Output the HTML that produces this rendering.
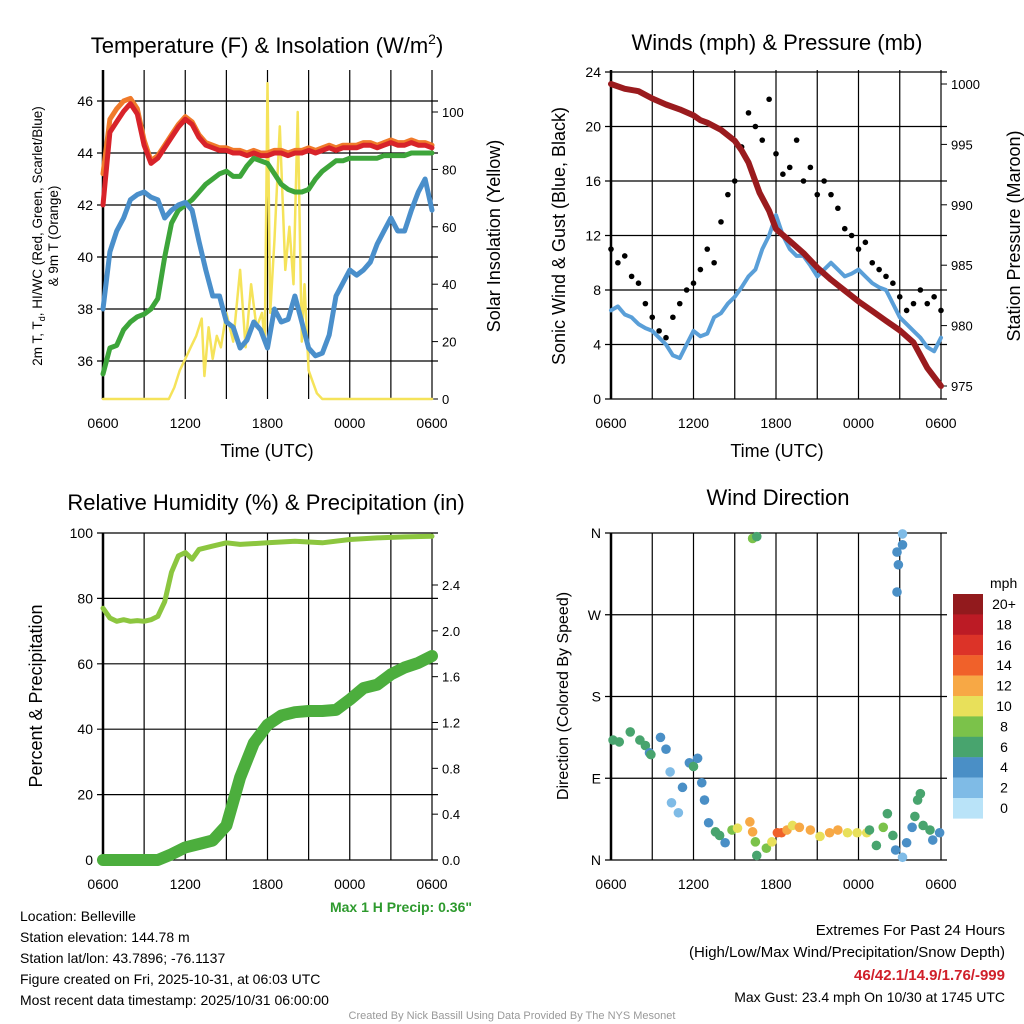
<!DOCTYPE html>
<html><head><meta charset="utf-8"><style>
body{margin:0;background:#fff;}
svg{display:block;font-family:"Liberation Sans",sans-serif;}
</style></head><body>
<svg id="s" width="1024" height="1024" viewBox="0 0 1024 1024" xmlns="http://www.w3.org/2000/svg">
<g font-size="22" text-anchor="middle" fill="#000">
<text x="267" y="53">Temperature (F) &amp; Insolation (W/m<tspan font-size="14" dy="-9">2</tspan><tspan dy="9">)</tspan></text>
<text x="777" y="50">Winds (mph) &amp; Pressure (mb)</text>
<text x="266" y="510">Relative Humidity (%) &amp; Precipitation (in)</text>
<text x="778" y="505">Wind Direction</text>
</g>
<g font-size="18" text-anchor="middle">
<text x="267" y="457">Time (UTC)</text>
<text x="777" y="457">Time (UTC)</text>
<text transform="translate(500,236) rotate(-90)">Solar Insolation (Yellow)</text>
<text transform="translate(565,236) rotate(-90)">Sonic Wind &amp; Gust (Blue, Black)</text>
<text transform="translate(1020,236) rotate(-90)">Station Pressure (Maroon)</text>
<text transform="translate(42,696) rotate(-90)">Percent &amp; Precipitation</text>
<text transform="translate(568,696) rotate(-90)" font-size="16">Direction (Colored By Speed)</text>
</g>
<g font-size="13.5" text-anchor="middle">
<text transform="translate(42,236) rotate(-90)">2m T, T<tspan font-size="9" dy="3">d</tspan><tspan dy="-3">, HI/WC (Red, Green, Scarlet/Blue)</tspan></text>
<text transform="translate(58,236) rotate(-90)">&amp; 9m T (Orange)</text>
</g>
<g id="p1"></g>
<g id="p2"></g>
<g id="p3"></g>
<g id="p4"></g>
<g font-size="14" fill="#000">
<text x="20" y="921">Location: Belleville</text>
<text x="20" y="942">Station elevation: 144.78 m</text>
<text x="20" y="963">Station lat/lon: 43.7896; -76.1137</text>
<text x="20" y="984">Figure created on Fri, 2025-10-31, at 06:03 UTC</text>
<text x="20" y="1005">Most recent data timestamp: 2025/10/31 06:00:00</text>
</g>
<g font-size="15" text-anchor="end">
<text x="1005" y="935">Extremes For Past 24 Hours</text>
<text x="1005" y="957">(High/Low/Max Wind/Precipitation/Snow Depth)</text>
<text x="1005" y="980" fill="#d0202a" font-weight="bold">46/42.1/14.9/1.76/-999</text>
<text x="1005" y="1002" font-size="14">Max Gust: 23.4 mph On 10/30 at 1745 UTC</text>
<text x="472" y="912" font-size="14" fill="#2e9a2e" font-weight="bold">Max 1 H Precip: 0.36"</text>
</g>
<text x="512" y="1019" font-size="11" fill="#999" text-anchor="middle">Created By Nick Bassill Using Data Provided By The NYS Mesonet</text>
</svg>
<script>
// ---------- data ----------
const hours = [0,0.5,1,1.5,2,2.5,3,3.5,4,4.5,5,5.5,6,6.5,7,7.5,8,8.5,9,9.5,10,10.5,11,11.5,12,12.5,13,13.5,14,14.5,15,15.5,16,16.5,17,17.5,18,18.5,19,19.5,20,20.5,21,21.5,22,22.5,23,23.5,24];
const xTickLabels = ["0600","1200","1800","0000","0600"];
const tempRed = [42,44.8,45.2,45.6,45.9,45.5,44.3,43.6,43.8,44.2,44.6,45,45.3,45.1,44.6,44.3,44.2,44.1,44.1,44,44,43.9,44,43.9,43.9,44,44,43.9,44,44,44.1,44,44.1,44.2,44.1,44.2,44.2,44.2,44.3,44.3,44.2,44.3,44.4,44.3,44.3,44.4,44.3,44.3,44.2];
const tempOrange = [43.2,45.3,45.7,46,46.1,45.7,44.5,43.7,43.9,44.3,44.7,45.1,45.4,45.2,44.7,44.4,44.3,44.2,44.2,44.1,44.1,44,44.1,44,44,44.1,44.1,44,44.1,44.1,44.2,44.1,44.2,44.3,44.2,44.3,44.3,44.3,44.4,44.4,44.3,44.4,44.5,44.4,44.4,44.5,44.4,44.4,44.3];
const tempGreen = [35.5,36.5,36.6,37.2,37.5,37.7,37.8,38,38.4,40,41.3,41.8,42,42.2,42.5,42.8,43,43.2,43.3,43.1,43.1,43.5,43.8,43.7,43.6,43.2,42.8,42.6,42.5,42.5,42.6,43,43.3,43.5,43.7,43.7,43.8,43.8,43.8,43.8,43.8,43.9,43.9,43.9,43.9,44,44,44,44];
const tempBlue = [38,40.2,41,41.5,42.2,42.4,42.5,42.3,42.2,41.5,41.8,42,42.1,41.8,40.6,39.5,38.5,38.5,37.5,37.3,36.5,36.8,37.5,37.2,36.5,38,37.5,37.6,38.5,37.5,36.5,36.2,36.3,37,38.5,39,39.5,39.3,39.5,39.8,40.5,41,41.5,41,41,41.8,42.5,43,41.8];
const solarHours = [0,4.8,5.2,5.6,6,6.4,6.8,7.2,7.4,7.7,8,8.3,8.6,9,9.5,10,10.4,10.8,11.2,11.6,11.8,12,12.2,12.5,12.9,13.3,13.6,13.9,14.2,14.5,14.7,15,15.3,15.6,16,24];
const solarValues = [0,0,4,10,14,18,22,28,8,25,14,22,18,30,20,45,18,40,25,30,20,110,30,55,95,45,60,40,100,20,40,10,6,2,0,0];
const windSpeed = [6.5,6.8,6.2,6,5.5,5.2,5,4.5,4,3.2,3,4,5,4.6,4.8,6,6.3,7,7.5,8.2,9,9.5,11,12,13.5,12,11,10.5,10.5,9.8,9,9.5,10,9.5,9,9.2,9.5,9,8.5,8.2,8,7,6,5.5,5,4.5,3.8,3.5,4.5];
const windGust = [11,10,10.5,9,8.5,7,6,5,4.5,6,7,8,8.5,9.5,11,10,13,15,16,18.5,21,20,19,22,18,16.5,17,19,16,17,15,16,15,14,12.5,12,11,11.5,10,9.5,9,8.5,7.5,6.5,7,8,7,7.5,6.5];
const pressHours = [0,1,2,3,4,5,6,6.5,7,8,9,9.5,10,10.8,11.5,12,13,14,15,16,17,18,19,20,21,22,23,24];
const pressure = [1000,999.6,999.4,998.8,998.3,997.9,997.4,997,996.8,996.2,995.3,994.5,993.5,991,989.5,988,987,986,984.8,983.8,982.9,982,981.2,980.4,979.6,978.6,976.5,975];
const rhHours = [0,0.5,1,1.5,2,2.5,3,3.5,4,4.5,5,5.5,6,6.5,7,8,9,10,12,14,16,18,20,22,24];
const humidity = [77,74,73,73.5,73,73.2,73,73.5,74.5,79,88,93,94,92,95,96,97,96.5,97,97.5,97,98,98.5,98.8,99];
const precipHours = [0,1,2,3,4,5,6,7,8,9,10,11,12,13,14,15,16,17,18,19,20,21,22,23,24];
const precip = [0,0,0,0,0,0.05,0.11,0.14,0.17,0.3,0.72,1.02,1.18,1.26,1.29,1.3,1.3,1.31,1.4,1.5,1.53,1.62,1.68,1.72,1.78];
const dirHours = [0.15,0.6,1.4,2.1,2.5,2.8,2.9,3.6,4.0,4.3,4.4,4.9,5.2,5.7,6.0,6.3,6.6,6.8,7.1,7.6,7.9,8.3,8.8,9.2,10.1,10.3,10.5,10.6,11.3,11.7,12.1,12.4,12.8,13.2,13.7,14.5,15.2,15.9,16.5,17.2,17.9,18.6,18.8,19.3,19.8,20.1,20.5,20.7,21.2,21.5,21.9,22.1,22.3,22.5,22.7,23.2,23.4,23.9,10.3,10.6,20.8,21.2,20.9,20.8,21.2];
const dirDegrees = [132,130,141,132,126,118,116,135,122,97,63,52,80,107,103,112,85,66,41,31,27,19,33,35,42,31,20,5,13,20,30,30,33,38,36,33,26,30,33,30,30,30,33,16,36,51,27,11,3,19,36,48,66,73,38,33,22,30,354,356,339,347,325,295,359];
const dirSpeeds = [7,6,6,6,6,4,6,4,4,2,2,2,4,4,6,4,4,4,4,6,6,4,8,10,12,12,8,6,8,10,14,14,12,10,12,12,10,12,12,10,10,10,6,6,8,6,6,4,2,4,4,6,6,6,6,6,4,4,8,6,4,4,4,4,2];
const speedLabels = ["20+","18","16","14","12","10","8","6","4","2","0"];
const speedColors = ["#921a1d","#bc1b25","#dc3328","#f0612a","#f7a845","#e8e05a","#7bc24a","#48a46e","#4a8fc6","#7fbbe6","#b9e3f8"];

// ---------- helpers ----------
const NS="http://www.w3.org/2000/svg";
function mk(parent,tag,attrs){const e=document.createElementNS(NS,tag);for(const k in attrs)e.setAttribute(k,attrs[k]);parent.appendChild(e);return e;}
function lin(d0,d1,r0,r1){return v=>r0+(v-d0)*(r1-r0)/(d1-d0);}
function pathD(xs,ys,fx,fy){return xs.map((x,i)=>(i?"L":"M")+fx(x).toFixed(1)+","+fy(ys[i]).toFixed(1)).join("");}

function frame(g,L,T,R,B,fx,ticksL,fyL,labL,ticksR,fyR,labR,name){
  for(let h=0;h<=24;h+=3){const l=mk(g,"line",{x1:fx(h),x2:fx(h),y1:T,y2:B,stroke:"#000","stroke-width":1.2});
    
    }
  ticksL.forEach((v,i)=>{const y=fyL(v);const l=mk(g,"line",{x1:L-6,x2:R+6,y1:y,y2:y,stroke:"#000","stroke-width":1.2});
    
    
    const t=mk(g,"text",{x:L-10,y:y+5,"font-size":14,"text-anchor":"end"});t.textContent=labL[i];
    
    });
  if(ticksR)ticksR.forEach((v,i)=>{const y=fyR(v);const l=mk(g,"line",{x1:R,x2:R+6,y1:y,y2:y,stroke:"#000","stroke-width":1});
    
    
    const t=mk(g,"text",{x:R+10,y:y+5,"font-size":13});t.textContent=labR[i];
    
    });
  xTickLabels.forEach((s,i)=>{const t=mk(g,"text",{x:fx(i*6),y:B+29,"font-size":14,"text-anchor":"middle"});t.textContent=s;
    
    });
  const b=mk(g,"line",{x1:L,x2:L,y1:T,y2:B,stroke:"#000","stroke-width":2.5});
  
  
}
function line(g,xs,ys,fx,fy,color,w,name){const p=mk(g,"path",{d:pathD(xs,ys,fx,fy),fill:"none",stroke:color,"stroke-width":w,"stroke-linejoin":"round","stroke-linecap":"round"});
  
  }

// ---------- panel 1 ----------
{const g=document.getElementById("p1");const fx=lin(0,24,103,432);const fy=lin(36,46,361,101);const fs=lin(0,100,399,112);
 frame(g,103,70,432,399,fx,[36,38,40,42,44,46],fy,["36","38","40","42","44","46"],[0,20,40,60,80,100],fs,["0","20","40","60","80","100"],"temp");
 line(g,solarHours,solarValues,fx,fs,"#f5e35a",2.5,"solar-line");
 line(g,hours,tempGreen,fx,fy,"#3da53a",5,"dewpoint-line");
 line(g,hours,tempBlue,fx,fy,"#4a8fcb",5,"windchill-line");
 line(g,hours,tempOrange,fx,fy,"#f07a2a",5,"temp-9m-line");
 line(g,hours,tempRed,fx,fy,"#d8232a",5,"temp-2m-line");}
// ---------- panel 2 ----------
{const g=document.getElementById("p2");const fx=lin(0,24,611,941);const fy=lin(0,24,399,72);const fp=lin(975,1000,386,84);
 frame(g,611,70,941,399,fx,[0,4,8,12,16,20,24],fy,["0","4","8","12","16","20","24"],[975,980,985,990,995,1000],fp,["975","980","985","990","995","1000"],"wind");
 line(g,hours,windSpeed,fx,fy,"#5a9fd8",4,"sonic-wind-line");
 windGust.forEach((v,i)=>{const c=mk(g,"circle",{cx:fx(hours[i]),cy:fy(v),r:2.8,fill:"#000"});
   
   });
 line(g,pressHours,pressure,fx,fp,"#9a1b1e",6,"pressure-line");}
// ---------- panel 3 ----------
{const g=document.getElementById("p3");const fx=lin(0,24,103,432);const fy=lin(0,100,860,533);const fr=lin(0,2.4,860,585);
 frame(g,103,533,432,860,fx,[0,20,40,60,80,100],fy,["0","20","40","60","80","100"],[0,0.4,0.8,1.2,1.6,2.0,2.4],fr,["0.0","0.4","0.8","1.2","1.6","2.0","2.4"],"rh");
 line(g,rhHours,humidity,fx,fy,"#8cc63f",5,"humidity-line");
 line(g,precipHours,precip,fx,fr,"#4cae3d",12,"precip-line");}
// ---------- panel 4 ----------
{const g=document.getElementById("p4");const fx=lin(0,24,611,941);const fy=lin(0,360,860,533);
 frame(g,611,533,941,860,fx,[0,90,180,270,360],fy,["N","E","S","W","N"],null,null,null,"direction");
 dirHours.forEach((h,i)=>{const s=dirSpeeds[i];const idx=Math.max(0,Math.min(10,10-Math.floor(s/2)));
   const c=mk(g,"circle",{cx:fx(h),cy:fy(dirDegrees[i]),r:4.8,fill:speedColors[idx]});
   
   });
 const t=mk(g,"text",{x:990,y:588,"font-size":14});t.textContent="mph";
 
 
 speedLabels.forEach((s,i)=>{const y=594+i*20.4;const r=mk(g,"rect",{x:953,y:y,width:30,height:20.6,fill:speedColors[i]});
   
   
   const l=mk(g,"text",{x:1004,y:y+15,"font-size":14,"text-anchor":"middle"});l.textContent=s;
   
   });}
</script>
</body></html>
